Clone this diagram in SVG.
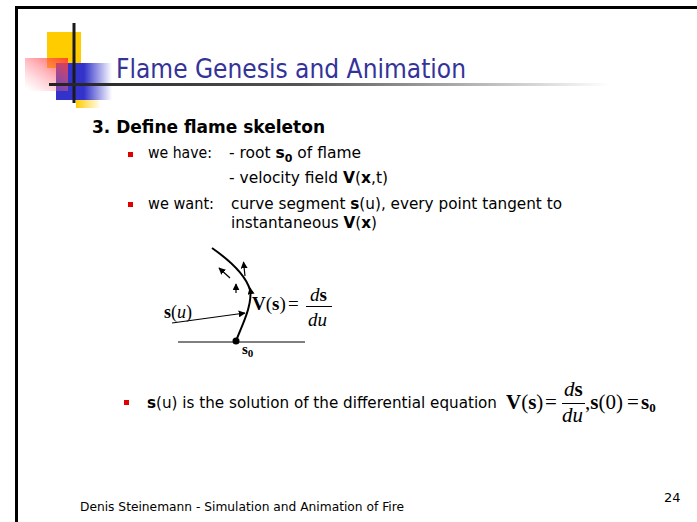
<svg xmlns="http://www.w3.org/2000/svg" width="697" height="522" viewBox="0 0 697 522">
<defs>
<style>
.t{font-family:"DejaVu Sans","Liberation Sans",sans-serif;fill:#000}
.m{font-family:"Liberation Serif","Times New Roman",serif;fill:#000}
.ln{stroke:#000;fill:none}
.bul{fill:#e00000}
</style>
<linearGradient id="ul" x1="0" y1="0" x2="1" y2="0">
<stop offset="0" stop-color="#222"/><stop offset="0.45" stop-color="#555"/><stop offset="1" stop-color="#fff"/>
</linearGradient>
<linearGradient id="blue" x1="0" y1="0" x2="1" y2="0">
<stop offset="0" stop-color="#3333cc"/><stop offset="0.5" stop-color="#3333cc"/><stop offset="1" stop-color="#3333cc" stop-opacity="0"/>
</linearGradient>
<linearGradient id="pink" x1="1" y1="0" x2="0.1" y2="1">
<stop offset="0" stop-color="#ff3a2a" stop-opacity="0.9"/><stop offset="0.5" stop-color="#ff6070" stop-opacity="0.45"/><stop offset="1" stop-color="#ff8090" stop-opacity="0"/>
</linearGradient>
<linearGradient id="yel2" x1="0" y1="0" x2="1" y2="0">
<stop offset="0" stop-color="#ffcc00"/><stop offset="1" stop-color="#ffcc00" stop-opacity="0"/>
</linearGradient>
<marker id="ah" viewBox="0 0 10 10" refX="9" refY="5" markerWidth="7" markerHeight="7" orient="auto" markerUnits="userSpaceOnUse">
<path d="M0,0 L10,5 L0,10 z" fill="#000"/>
</marker>
</defs>
<rect width="697" height="522" fill="#fff"/>
<g id="frame">
<line x1="16.5" y1="7.5" x2="697" y2="7.5" stroke="#000" stroke-width="3"/>
<line x1="16.5" y1="6" x2="16.5" y2="522" stroke="#000" stroke-width="3"/>
</g>
<g id="logo">
<rect x="47" y="32" width="34" height="36" fill="#ffcc00"/>
<rect x="76" y="99" width="25" height="9" fill="url(#yel2)"/>
<rect x="56" y="63" width="56" height="37" fill="url(#blue)"/>
<rect x="25" y="58" width="43" height="33" fill="url(#pink)"/>
<line x1="74" y1="23" x2="74" y2="103" stroke="#1a1a1a" stroke-width="3"/>
<rect x="49" y="83" width="560" height="3" fill="url(#ul)"/>
</g>
<g id="title">
<text class="t" x="116" y="78" font-size="26" style="fill:#333399" textLength="350" lengthAdjust="spacingAndGlyphs">Flame Genesis and Animation</text>
</g>
<g id="body">
<text class="t" x="92" y="133" font-size="17" font-weight="bold" textLength="233" lengthAdjust="spacingAndGlyphs">3. Define flame skeleton</text>
<rect class="bul" x="128" y="152" width="5" height="5"/>
<text class="t" x="148" y="158" font-size="15.5" textLength="64" lengthAdjust="spacingAndGlyphs">we have:</text>
<text class="t" x="229" y="158" font-size="15.5">- root <tspan font-weight="bold">s</tspan><tspan font-weight="bold" font-size="11" dy="4">0</tspan><tspan dy="-4"> of flame</tspan></text>
<text class="t" x="229" y="183" font-size="15.5" textLength="159" lengthAdjust="spacingAndGlyphs">- velocity field <tspan font-weight="bold">V</tspan>(<tspan font-weight="bold">x</tspan>,t)</text>
<rect class="bul" x="128" y="202" width="5" height="5"/>
<text class="t" x="148" y="209" font-size="15.5" textLength="66" lengthAdjust="spacingAndGlyphs">we want:</text>
<text class="t" x="231" y="209" font-size="15.5" textLength="331" lengthAdjust="spacingAndGlyphs">curve segment <tspan font-weight="bold">s</tspan>(u), every point tangent to</text>
<text class="t" x="231" y="228" font-size="15.5" textLength="146" lengthAdjust="spacingAndGlyphs">instantaneous <tspan font-weight="bold">V</tspan>(<tspan font-weight="bold">x</tspan>)</text>
</g>
<g id="skeleton-diagram">
<line class="ln" x1="178" y1="342" x2="305" y2="342" stroke-width="1"/>
<path class="ln" d="M236,341 C242,325 253,305 250,288" stroke-width="2" marker-end="url(#ah)"/>
<path class="ln" d="M250,290 C246,276 232,262 212,248" stroke-width="2"/>
<circle cx="236" cy="341" r="3.5" fill="#000"/>
<line class="ln" x1="172" y1="323" x2="245" y2="313" stroke-width="1.2" marker-end="url(#ah)"/>
<line class="ln" x1="230" y1="278" x2="219" y2="268" stroke-width="1.2" marker-end="url(#ah)"/>
<line class="ln" x1="245" y1="276" x2="243.5" y2="262" stroke-width="1.2" marker-end="url(#ah)"/>
<line class="ln" x1="236" y1="293" x2="236" y2="284" stroke-width="1.2" marker-end="url(#ah)"/>
<text class="m" x="164" y="318" font-size="18"><tspan font-weight="bold">s</tspan>(<tspan font-style="italic">u</tspan>)</text>
<text class="m" x="252" y="310" font-size="19"><tspan font-weight="bold">V</tspan>(<tspan font-weight="bold">s</tspan>)</text>
<text class="m" x="288" y="310" font-size="19">=</text>
<text class="m" x="310" y="301" font-size="19"><tspan font-style="italic">d</tspan><tspan font-weight="bold">s</tspan></text>
<line x1="306" y1="306.5" x2="332" y2="306.5" stroke="#000" stroke-width="1"/>
<text class="m" x="308" y="326" font-size="19" font-style="italic">du</text>
<text class="m" x="242" y="354" font-size="15" font-weight="bold">s<tspan font-size="11" dy="3">0</tspan></text>
</g>
<g id="bullet3">
<rect class="bul" x="124" y="400" width="5" height="5"/>
<text class="t" x="147" y="408" font-size="15.5" textLength="350" lengthAdjust="spacingAndGlyphs"><tspan font-weight="bold">s</tspan>(u) is the solution of the differential equation</text>
<text class="m" x="506" y="409" font-size="21"><tspan font-weight="bold">V</tspan>(<tspan font-weight="bold">s</tspan>)</text>
<text class="m" x="545" y="409" font-size="21">=</text>
<text class="m" x="564" y="396" font-size="21"><tspan font-style="italic">d</tspan><tspan font-weight="bold">s</tspan></text>
<line x1="562" y1="403.5" x2="585" y2="403.5" stroke="#000" stroke-width="1"/>
<text class="m" x="562" y="422" font-size="21" font-style="italic">du</text>
<text class="m" x="585" y="409" font-size="21">,<tspan font-weight="bold">s</tspan>(0)</text>
<text class="m" x="627" y="409" font-size="21">=</text>
<text class="m" x="641" y="409" font-size="21" font-weight="bold">s<tspan font-size="13" dy="3">0</tspan></text>
</g>
<g id="footer">
<text class="t" x="80" y="511" font-size="12" textLength="324" lengthAdjust="spacingAndGlyphs">Denis Steinemann - Simulation and Animation of Fire</text>
<text class="t" x="664" y="502" font-size="13">24</text>
</g>
</svg>
